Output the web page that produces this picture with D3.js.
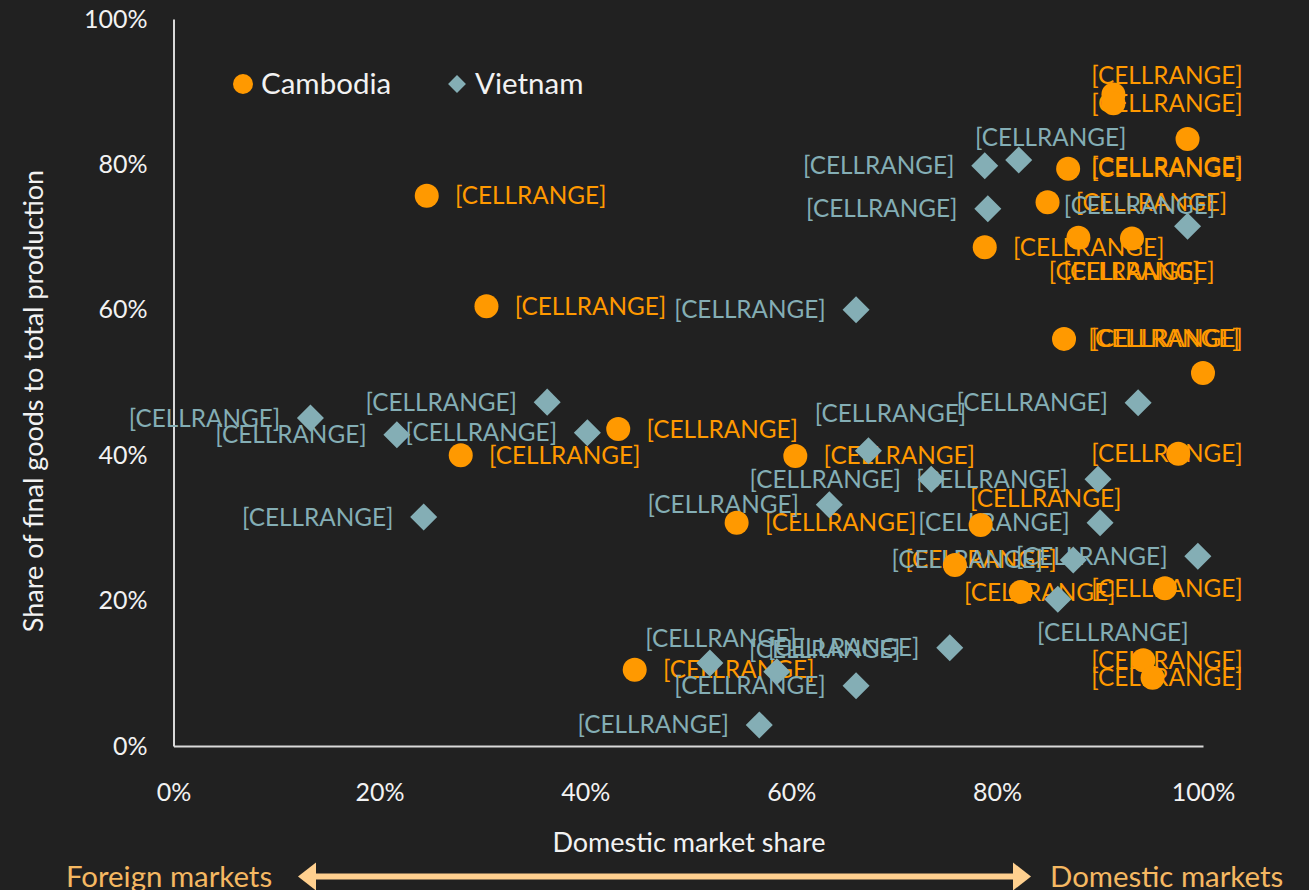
<!DOCTYPE html>
<html><head><meta charset="utf-8">
<script src="https://cdn.jsdelivr.net/npm/d3@7"></script>
<style>html,body{margin:0;padding:0;background:#212121;} svg{display:block;}</style>
</head><body><svg id="chart" width="1309" height="890"></svg>
<script>
// ---------- data ----------
const seriesNames = ["Cambodia", "Vietnam"];
const xTicks = [0, 0.2, 0.4, 0.6, 0.8, 1.0];
const yTicks = [0, 0.2, 0.4, 0.6, 0.8, 1.0];
const cambodiaX = [0.246, 0.304, 0.279, 0.432, 0.604, 0.547, 0.448, 0.913, 0.913, 0.985, 0.869, 0.849, 0.788, 0.879, 0.931, 0.865, 1.000, 0.976, 0.784, 0.759, 0.823, 0.963, 0.942, 0.951];
const cambodiaY = [0.757, 0.605, 0.400, 0.436, 0.399, 0.307, 0.105, 0.896, 0.884, 0.835, 0.794, 0.748, 0.686, 0.699, 0.698, 0.560, 0.513, 0.402, 0.304, 0.249, 0.212, 0.217, 0.118, 0.094];
const vietnamX = [0.133, 0.217, 0.363, 0.402, 0.243, 0.663, 0.788, 0.821, 0.791, 0.985, 0.937, 0.675, 0.736, 0.898, 0.637, 0.900, 0.874, 0.995, 0.859, 0.754, 0.521, 0.586, 0.663, 0.569];
const vietnamY = [0.451, 0.428, 0.473, 0.431, 0.315, 0.600, 0.798, 0.806, 0.739, 0.715, 0.472, 0.406, 0.367, 0.367, 0.332, 0.307, 0.256, 0.261, 0.202, 0.135, 0.114, 0.102, 0.083, 0.029];
const pointLabel = "[CELLRANGE]";
const xTitle = "Domestic market share";
const yTitle = "Share of final goods to total production";
const leftNote = "Foreign markets";
const rightNote = "Domestic markets";

// ---------- layout (label nudges: label centre relative to marker) ----------
const cambodiaLabelShift = {7: [104, -19], 9: [104, 28], 13: [46, 34], 14: [7, 33], 16: [-39, -35], 18: [65, -26], 19: [26, -5], 20: [19, 1]};
const vietnamLabelShift = {7: [32, -23], 9: [-48, -21], 11: [22, -37], 18: [55, 33], 20: [11, -25], 21: [48, -22]};

const W = 1309, H = 890;
const FONT = "Lato, 'Open Sans', sans-serif";
const ORANGE = "#FF9900", TEAL = "#84AEB5", TXT = "#F2F2F2", AXIS = "#D9D9D9";
const PEACH = "#FFD08F", NOTE = "#F5B862";

const svg = d3.select("#chart");
svg.append("rect").attr("width", W).attr("height", H).attr("fill", "#212121");

const x = d3.scaleLinear().domain([0, 1]).range([173.5, 1203]);
const y = d3.scaleLinear().domain([0, 1]).range([746, 19]);
const pct = d3.format(".0%");

// axes
const xAxis = svg.append("g").attr("transform", "translate(0,746)")
  .call(d3.axisBottom(x).tickValues(xTicks).tickFormat(pct).tickSize(0).tickPadding(37));
xAxis.select(".domain").attr("stroke", AXIS).attr("stroke-width", 2);
xAxis.selectAll("text").attr("fill", TXT).style("font-family", FONT).style("font-size", "25px");

const yAxis = svg.append("g").attr("transform", "translate(173.5,0)")
  .call(d3.axisLeft(y).tickValues(yTicks).tickFormat(pct).tickSize(0).tickPadding(26));
yAxis.select(".domain").attr("stroke", AXIS).attr("stroke-width", 2);
yAxis.selectAll("text").attr("fill", TXT).style("font-family", FONT).style("font-size", "25px");

// axis titles
svg.append("text").attr("x", 689).attr("y", 843).attr("dy", "0.35em").attr("text-anchor", "middle")
  .attr("fill", TXT).style("font-family", FONT).style("font-size", "27px").text(xTitle);
svg.append("text").attr("transform", "translate(34,401) rotate(-90)").attr("dy", "0.35em").attr("text-anchor", "middle")
  .attr("fill", TXT).style("font-family", FONT).style("font-size", "27px").text(yTitle);

// data
const cambodia = cambodiaX.map((v, i) => ({x: v, y: cambodiaY[i], i}));
const vietnam = vietnamX.map((v, i) => ({x: v, y: vietnamY[i], i}));

const LABEL_HALF = 75, RIGHT_LIMIT = 1242;
function labelPos(d, shifts, def) {
  const s = shifts[d.i] || def;
  let cx = x(d.x) + s[0];
  cx = Math.min(cx, RIGHT_LIMIT - LABEL_HALF);
  return [cx, y(d.y) + s[1]];
}

const labels = svg.append("g").style("font-family", FONT).style("font-size", "24.3px").attr("text-anchor", "middle");
labels.selectAll("text.c").data(cambodia).join("text").attr("class", "c")
  .attr("x", d => labelPos(d, cambodiaLabelShift, [104, 0])[0])
  .attr("y", d => labelPos(d, cambodiaLabelShift, [104, 0])[1])
  .attr("dy", "0.35em").attr("fill", ORANGE).text(pointLabel);
labels.selectAll("text.v").data(vietnam).join("text").attr("class", "v")
  .attr("x", d => labelPos(d, vietnamLabelShift, [-106, 0])[0])
  .attr("y", d => labelPos(d, vietnamLabelShift, [-106, 0])[1])
  .attr("dy", "0.35em").attr("fill", TEAL).text(pointLabel);

// markers
svg.append("g").selectAll("circle").data(cambodia).join("circle")
  .attr("cx", d => x(d.x)).attr("cy", d => y(d.y)).attr("r", 12).attr("fill", ORANGE);
const diamond = d3.symbol().type(d3.symbolSquare).size(365);
svg.append("g").selectAll("path").data(vietnam).join("path")
  .attr("d", diamond)
  .attr("transform", d => `translate(${x(d.x)},${y(d.y)}) rotate(45)`)
  .attr("fill", TEAL);

// legend
const lg = svg.append("g").style("font-family", FONT).style("font-size", "29.5px");
lg.append("circle").attr("cx", 243).attr("cy", 84).attr("r", 10).attr("fill", ORANGE);
lg.append("text").attr("x", 261).attr("y", 84).attr("dy", "0.35em").attr("fill", TXT).text(seriesNames[0]);
lg.append("path").attr("d", d3.symbol().type(d3.symbolSquare).size(160)).attr("transform", "translate(457,84) rotate(45)").attr("fill", TEAL);
lg.append("text").attr("x", 475).attr("y", 84).attr("dy", "0.35em").attr("fill", TXT).text(seriesNames[1]);

// bottom arrow + notes
const ay = 876.5;
svg.append("line").attr("x1", 312).attr("x2", 1016).attr("y1", ay).attr("y2", ay).attr("stroke", PEACH).attr("stroke-width", 6);
svg.append("path").attr("d", `M298,${ay} L316,${ay - 14} L316,${ay + 14} Z`).attr("fill", PEACH);
svg.append("path").attr("d", `M1031,${ay} L1013,${ay - 14} L1013,${ay + 14} Z`).attr("fill", PEACH);
svg.append("text").attr("x", 66).attr("y", ay).attr("dy", "0.35em").attr("fill", NOTE)
  .style("font-family", FONT).style("font-size", "29.4px").text(leftNote);
svg.append("text").attr("x", 1050).attr("y", ay).attr("dy", "0.35em").attr("fill", NOTE)
  .style("font-family", FONT).style("font-size", "29.4px").text(rightNote);
</script>
</body></html>
